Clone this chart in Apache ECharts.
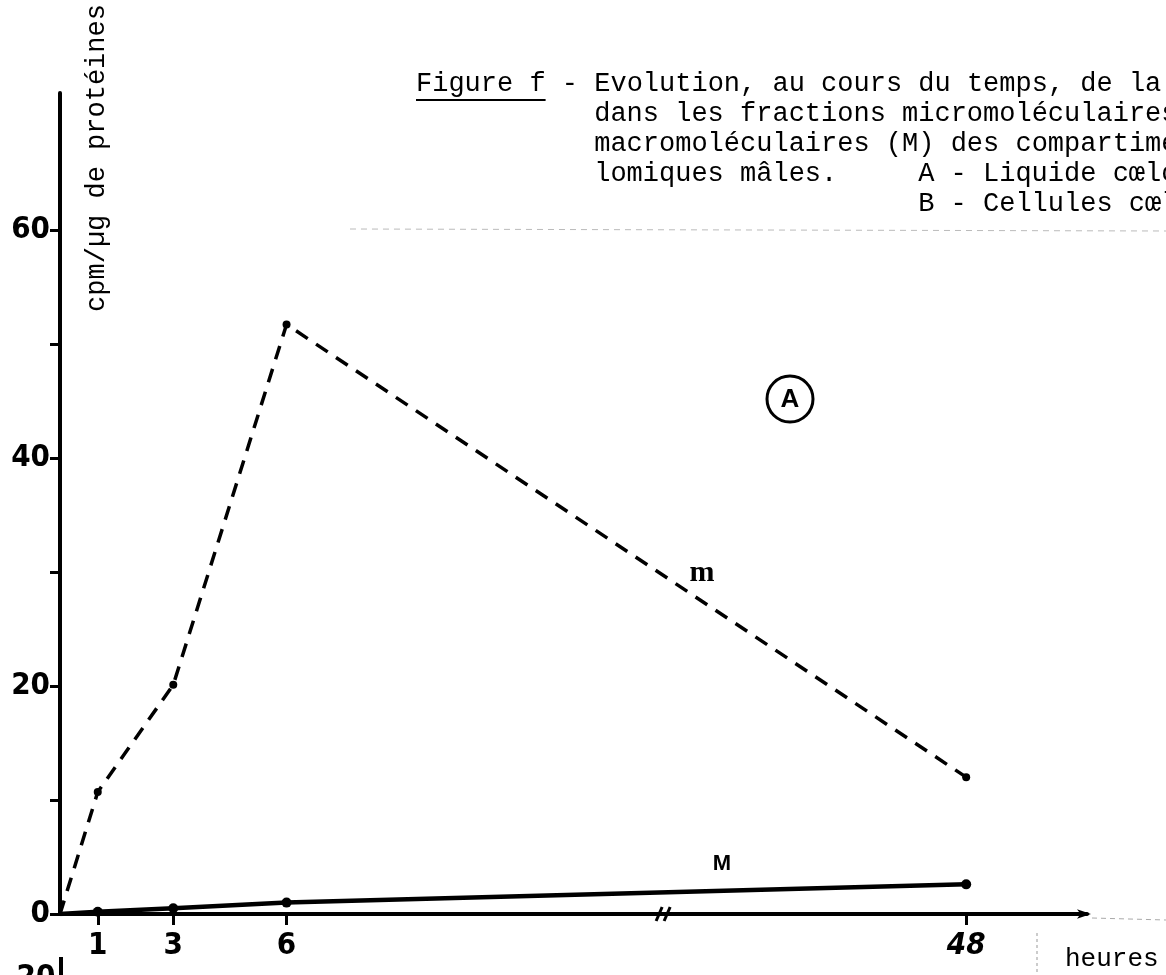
<!DOCTYPE html>
<html><head><meta charset="utf-8">
<script src="https://cdn.jsdelivr.net/npm/echarts@6.0.0/dist/echarts.min.js"></script>
<style>html,body{margin:0;padding:0;background:#fff}#c{width:1166px;height:975px}</style>
</head><body><div id="c"></div>
<script>
// ---- data ----
const hoursMicro = [0, 1, 3, 6, 48];
const valuesMicro = [0, 10.7, 20.1, 51.7, 12.0];      // m (fraction micromoléculaire)
const hoursMacro = [0, 1, 3, 6, 48];
const valuesMacro = [0, 0.2, 0.5, 1.0, 2.6];          // M (fraction macromoléculaire)
const xTickValues = [1, 3, 6, 48];
const yTickValues = [0, 10, 20, 30, 40, 50, 60];
const yLabelValues = [0, 20, 40, 60];
const axisBreak = { start: 16, end: 40 };
const titleLine1 = 'Figure f - Evolution, au cours du temps, de la';
const titleLines = ['dans les fractions micromoléculaires',
                    'macromoléculaires (M) des compartime',
                    'lomiques mâles.'];
const legendA = 'A - Liquide cœlo';
const legendB = 'B - Cellules cœl';
const yName = 'cpm/µg de protéines';
const xName = 'heures';

const numFont = "'Liberation Sans Narrow','DejaVu Sans Condensed','Roboto Condensed','Liberation Sans',sans-serif";
const typeFont = "'Liberation Mono','DejaVu Sans Mono',monospace";

const chart = echarts.init(document.getElementById('c'), null, {renderer: 'canvas'});

const option = {
  animation: false,
  backgroundColor: '#fff',
  grid: { left: 60, right: 79, top: 93, bottom: 61, containLabel: false, outerBoundsMode: 'none' },
  xAxis: {
    type: 'value', min: 0, max: 51.2,
    breaks: [{ start: axisBreak.start, end: axisBreak.end, gap: 0 }],
    breakArea: { show: false },
    axisLine: { show: true, onZero: false, lineStyle: { color: '#000', width: 4 },
                symbol: ['none', 'arrow'], symbolSize: [7, 14], symbolOffset: [0, 4] },
    axisTick: { show: true, customValues: xTickValues, length: 11, lineStyle: { color: '#000', width: 3 } },
    axisLabel: { customValues: xTickValues, margin: 16, color: '#000', fontSize: 31, fontWeight: 'bold',
                 fontFamily: numFont,
                 formatter: v => v === 48 ? '{i|48}' : String(v),
                 rich: { i: { fontSize: 31, fontWeight: 'bold', fontStyle: 'italic', fontFamily: numFont, color: '#000' } } },
    splitLine: { show: false }
  },
  yAxis: {
    type: 'value', min: 0, max: 72,
    axisLine: { show: true, lineStyle: { color: '#000', width: 4 } },
    axisTick: { show: true, customValues: yTickValues, length: 10, lineStyle: { color: '#000', width: 3 } },
    axisLabel: { customValues: yLabelValues, margin: 10, color: '#000', fontSize: 31, fontWeight: 'bold',
                 fontFamily: numFont },
    splitLine: { show: false }
  },
  series: [
    {
      name: 'm', type: 'line',
      data: hoursMicro.map((h, i) => [h, valuesMicro[i]]),
      lineStyle: { color: '#000', width: 3.5, type: [14, 10] },
      symbol: 'circle', symbolSize: (v, p) => p.dataIndex === 0 ? 0 : 8,
      itemStyle: { color: '#000' }, z: 3
    },
    {
      name: 'M', type: 'line',
      data: hoursMacro.map((h, i) => [h, valuesMacro[i]]),
      lineStyle: { color: '#000', width: 4.5 },
      symbol: 'circle', symbolSize: (v, p) => p.dataIndex === 0 ? 0 : 10,
      itemStyle: { color: '#000' }, z: 4
    }
  ]
};
chart.setOption(option);

// ---- annotations ----
const fs = 27, w = fs * 0.6, x0 = 416, y0 = 85, lh = 30;
const tf = `${fs}px ${typeFont}`;
const g = [];
g.push({ type: 'text', left: x0, top: y0 - 15, style: { text: titleLine1, font: tf, fill: '#000' } });
g.push({ type: 'line', shape: { x1: x0, y1: y0 + 15, x2: x0 + 8 * w, y2: y0 + 15 }, style: { stroke: '#000', lineWidth: 2 } });
titleLines.forEach((t, i) => g.push({ type: 'text', left: x0 + 11 * w, top: y0 - 15 + (i + 1) * lh,
  style: { text: t, font: tf, fill: '#000' } }));
const legX = x0 + 31 * w;
g.push({ type: 'text', left: legX, top: y0 - 15 + 3 * lh, style: { text: legendA, font: tf, fill: '#000' } });
g.push({ type: 'text', left: legX, top: y0 - 15 + 4 * lh, style: { text: legendB, font: tf, fill: '#000' } });
g.push({ type: 'line', shape: { x1: 350, y1: y0 + 4 * lh + 24, x2: 1166, y2: y0 + 4 * lh + 26 },
  style: { stroke: '#bbb', lineWidth: 1, lineDash: [6, 5] } });
// y axis name (vertical)
g.push({ type: 'text', x: 97, y: 158, rotation: Math.PI / 2,
  style: { text: yName, font: tf, fill: '#000', align: 'center', verticalAlign: 'middle' } });
// x axis name
g.push({ type: 'text', left: 1065, top: 946, style: { text: xName, font: `26px ${typeFont}`, fill: '#000' } });
g.push({ type: 'line', shape: { x1: 1037, y1: 933, x2: 1037, y2: 975 }, style: { stroke: '#999', lineWidth: 1, lineDash: [3, 3] } });
g.push({ type: 'line', shape: { x1: 1092, y1: 918, x2: 1166, y2: 920 }, style: { stroke: '#aaa', lineWidth: 1, lineDash: [5, 4] } });
// series labels
g.push({ type: 'text', x: 702, y: 573, style: { text: 'm', font: "bold 30px 'Liberation Serif','DejaVu Serif',serif", fill: '#000', align: 'center', verticalAlign: 'middle' } });
g.push({ type: 'text', x: 722, y: 864, style: { text: 'M', font: "bold 22px 'Liberation Sans','DejaVu Sans',sans-serif", fill: '#000', align: 'center', verticalAlign: 'middle' } });
// circled A
g.push({ type: 'circle', shape: { cx: 790, cy: 399, r: 23 }, style: { fill: 'none', stroke: '#000', lineWidth: 3 } });
g.push({ type: 'text', x: 790, y: 400, style: { text: 'A', font: "bold 26px 'Liberation Sans','DejaVu Sans',sans-serif", fill: '#000', align: 'center', verticalAlign: 'middle' } });
// axis break mark "//"
let bp;
try { bp = chart.convertToPixel({ xAxisIndex: 0, yAxisIndex: 0 }, [axisBreak.start, 0]); } catch (e) { bp = null; }
if (!bp || !isFinite(bp[0])) bp = [664, 914];
[-5, 3].forEach(dx => g.push({ type: 'line', shape: { x1: bp[0] + dx - 3, y1: bp[1] + 7, x2: bp[0] + dx + 3, y2: bp[1] - 7 },
  style: { stroke: '#000', lineWidth: 3 } }));
// start of the next panel (B) at bottom edge
g.push({ type: 'text', x: 36, y: 962, style: { text: '20', font: `bold 31px ${numFont}`, fill: '#000', align: 'center', verticalAlign: 'top' } });
g.push({ type: 'line', shape: { x1: 61, y1: 957, x2: 61, y2: 975 }, style: { stroke: '#000', lineWidth: 4 } });
chart.setOption({ graphic: g });
</script>
</body></html>
